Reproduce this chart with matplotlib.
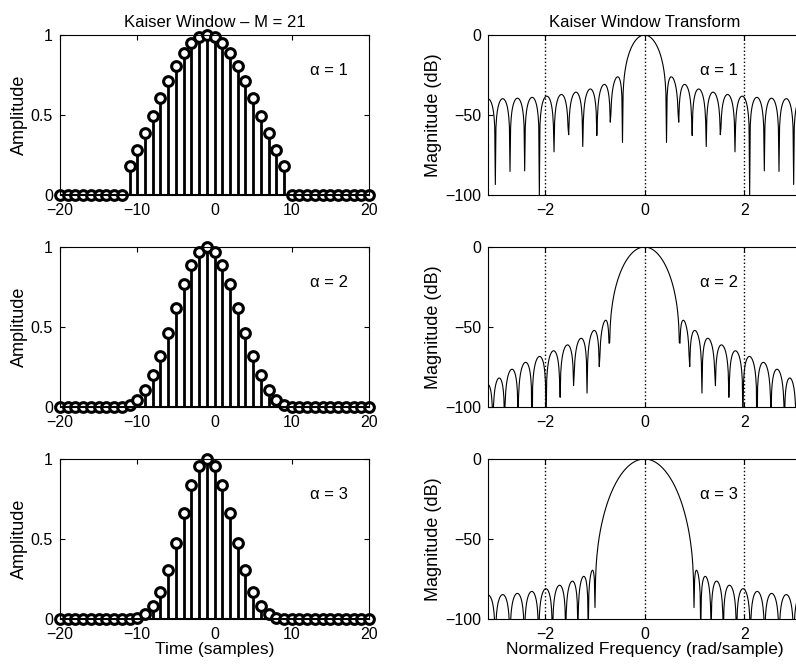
import numpy as np
import matplotlib
matplotlib.use("Agg")
import matplotlib.pyplot as plt

plt.rcParams['font.family'] = ['Liberation Sans', 'DejaVu Sans']

# time axis of the zero-padded plots
n = np.arange(-20, 21)
n_win = np.arange(-11, 10)   # the 21 window samples sit at -11..9

alphas = [1, 2, 3]

# Kaiser window samples (M = 21)
half_a1 = [0.182554, 0.278704, 0.384477, 0.495484, 0.606707, 0.712811,
           0.808479, 0.888763, 0.949417, 0.987179, 1.000000]
half_a2 = [0.011480, 0.045468, 0.106479, 0.198416, 0.320220, 0.464862,
           0.619579, 0.767477, 0.890264, 0.971553, 1.000000]
half_a3 = [0.000612, 0.007600, 0.030078, 0.080490, 0.170406, 0.304703,
           0.476225, 0.663777, 0.835350, 0.956328, 1.000000]
win_a1 = half_a1 + half_a1[-2::-1]
win_a2 = half_a2 + half_a2[-2::-1]
win_a3 = half_a3 + half_a3[-2::-1]
windows = [win_a1, win_a2, win_a3]

nfft = 512

fig = plt.figure(figsize=(7.96, 6.66), dpi=100)
W, H = 796, 666
tops = [35, 247, 459]
for i, a in enumerate(alphas):
    win = np.array(windows[i])
    bottom = 1 - (tops[i] + 160) / H
    axl = fig.add_axes([60 / W, bottom, 309 / W, 160 / H])
    axr = fig.add_axes([488 / W, bottom, 313 / W, 160 / H])

    # zero-padded window on -20..20
    w = np.zeros(len(n))
    w[np.searchsorted(n, n_win)] = win
    ml, sl, bl = axl.stem(n, w, linefmt='k-', markerfmt='ko', basefmt='k-')
    plt.setp(sl, linewidth=2)
    plt.setp(ml, markersize=7, markerfacecolor='white', markeredgewidth=2.2, clip_on=False)
    axl.set_xlim(-20, 20)
    axl.set_ylim(0, 1)
    axl.set_xticks([-20, -10, 0, 10, 20])
    axl.set_yticks([0, 0.5, 1])
    axl.set_yticklabels(['0', '0.5', '1'])
    axl.set_ylabel('Amplitude', fontsize=13, labelpad=2)
    axl.text(14.8, 0.78, '\u03b1 = %d' % a, ha='center', va='center', fontsize=12)
    axl.tick_params(direction='in', top=True, right=True, labelsize=11.5)
    axl.tick_params(axis='x', pad=6)
    axl.tick_params(axis='y', pad=5)

    # transform of the window, in dB
    spec = np.fft.fftshift(np.abs(np.fft.fft(win, nfft)))
    freq = np.linspace(-np.pi, np.pi, nfft, endpoint=False)
    db = 20 * np.log10(spec / spec.max() + 1e-12)
    axr.plot(freq, db, 'k-', linewidth=0.8)
    axr.set_xlim(-np.pi, np.pi)
    axr.set_ylim(-100, 0)
    axr.set_xticks([-2, 0, 2])
    axr.set_yticks([-100, -50, 0])
    axr.grid(axis='x', linestyle=':', color='k', linewidth=1)
    axr.set_ylabel('Magnitude (dB)', fontsize=13, labelpad=2)
    axr.text(1.5, -22, '\u03b1 = %d' % a, ha='center', va='center', fontsize=12)
    axr.tick_params(direction='in', top=True, right=True, labelsize=11.5)
    axr.tick_params(axis='x', pad=6)
    axr.tick_params(axis='y', pad=5)

    if i == 0:
        axl.set_title('Kaiser Window \u2013 M = 21', fontsize=12, pad=6)
        axr.set_title('Kaiser Window Transform', fontsize=12, pad=6)
    if i == 2:
        axl.set_xlabel('Time (samples)', fontsize=12.5, labelpad=0)
        axr.set_xlabel('Normalized Frequency (rad/sample)', fontsize=12.5, labelpad=0)

fig.savefig('out.png', dpi=100)
